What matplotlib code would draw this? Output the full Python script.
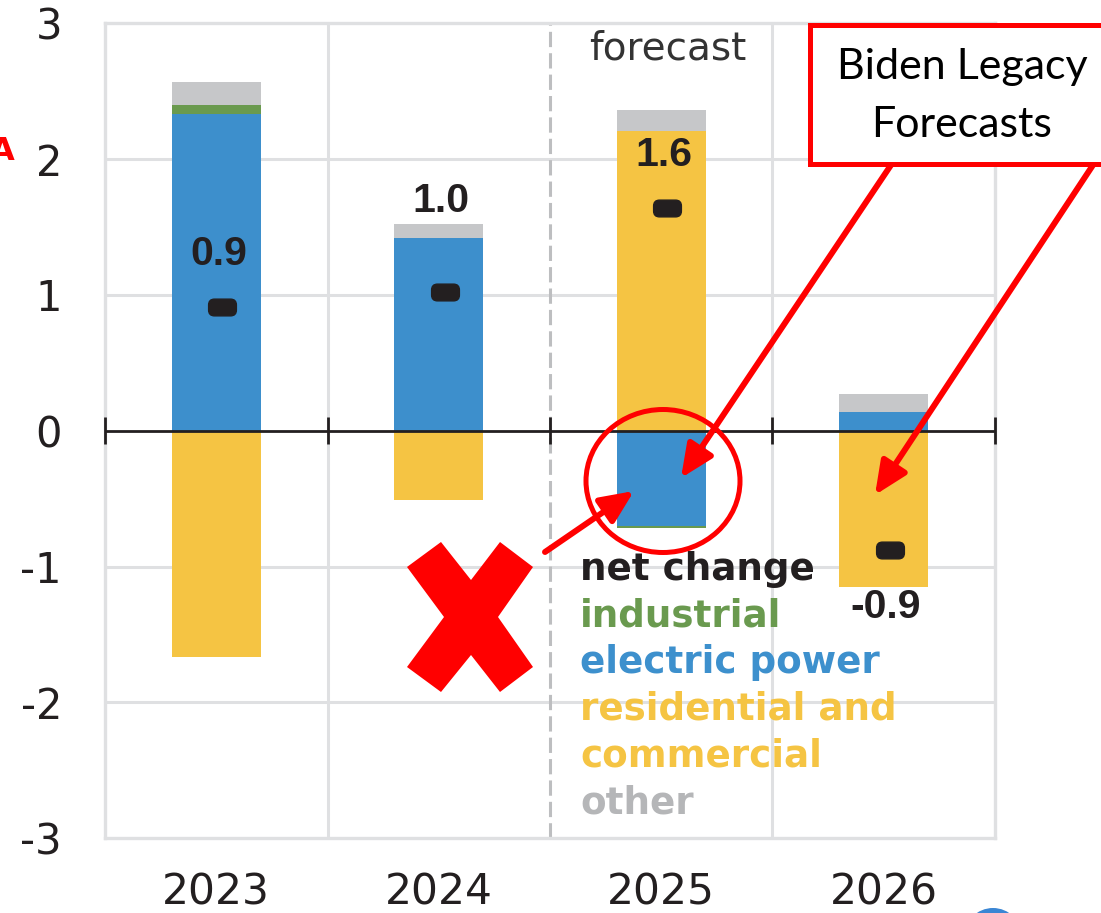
import matplotlib
matplotlib.use('Agg')
import matplotlib.pyplot as plt
import numpy as np
from matplotlib.patches import FancyArrowPatch, Ellipse, Rectangle, Polygon, BoxStyle

years = ['2023', '2024', '2025', '2026']
electric = [2.33, 1.42, -0.70, 0.14]
industrial = [0.065, 0.0, -0.015, 0.0]
residential = [-1.665, -0.51, 2.21, -1.15]
other = [0.175, 0.10, 0.15, 0.13]
net_change = [0.91, 1.02, 1.64, -0.88]
net_labels = ['0.9', '1.0', '1.6', '-0.9']
legend_labels = ['net change', 'industrial', 'electric power', 'residential and\ncommercial', 'other']

W, H = 1101, 913
def fp(x, y):
    # pixel (top-left origin) -> figure fraction
    return (x / W, 1 - y / H)

c_blue = '#3d8fcc'
c_yellow = '#f5c443'
c_green = '#6a9a4e'
c_gray = '#c6c7c9'
c_dark = '#231f20'
c_grid = '#dfe0e2'

fig = plt.figure(figsize=(W / 100, H / 100), dpi=100)
ax = fig.add_axes([105 / W, 74.7 / H, 890 / W, 815 / H])

x = np.arange(len(years)) + 0.5
pos_bottom = np.zeros(len(years))
neg_bottom = np.zeros(len(years))
for vals, col in [(electric, c_blue), (industrial, c_green), (residential, c_yellow), (other, c_gray)]:
    v = np.array(vals)
    bottom = np.where(v >= 0, pos_bottom, neg_bottom)
    ax.bar(x, v, bottom=bottom, width=0.40, color=col, linewidth=0, zorder=2)
    pos_bottom += np.where(v >= 0, v, 0)
    neg_bottom += np.where(v < 0, v, 0)

# net change markers (rounded rectangles)
pill = BoxStyle.Round(pad=0, rounding_size=0.35)(-0.83, -0.5, 1.66, 1.0, 1.0)
ax.plot(x + 0.027, net_change, ls='none', marker=pill, ms=20, color=c_dark, zorder=4)

label_y = [1.30, 1.69, 2.03, -1.30]
for xi, ly, lab in zip(x, label_y, net_labels):
    ax.text(xi + 0.01, ly, lab, ha='center', va='center', fontsize=29.5, fontweight='bold',
            family='Liberation Sans', color=c_dark, zorder=5)

ax.set_xlim(0, 4)
ax.set_ylim(-3, 3)
ax.set_yticks(range(-3, 4))
ax.set_yticklabels([str(v) for v in range(-3, 4)])
ax.set_xticks(x)
ax.set_xticklabels(years)
ax.tick_params(axis='y', length=0, pad=31, labelsize=30, labelcolor=c_dark)
ax.tick_params(axis='x', length=0, pad=24, labelsize=30.5, labelcolor=c_dark)

for sp in ax.spines.values():
    sp.set_color(c_grid)
    sp.set_linewidth(2.4)
for yv in [-2, -1, 1, 2]:
    ax.axhline(yv, color=c_grid, lw=2.2, zorder=0)
for xv in [1, 3]:
    ax.axvline(xv, color=c_grid, lw=2.2, zorder=0)
ax.axvline(2, color='#bdbec0', lw=2.2, dashes=(5, 2), zorder=1)

ax.axhline(0, color=c_dark, lw=2.0, zorder=3)
ax.vlines([0, 1, 2, 3, 4], -0.10, 0.10, color=c_dark, lw=2.0, zorder=3, clip_on=False)

ax.text(2.53, 2.73, 'forecast', ha='center', va='baseline', fontsize=28, color='#333333')

legend_colors = [c_dark, '#6a9a4f', '#3d90cd', c_yellow, '#b5b6b8']
lines = []
cols = []
for lab, col in zip(legend_labels, legend_colors):
    for part in lab.split('\n'):
        lines.append(part)
        cols.append(col)
for i, (t, col) in enumerate(zip(lines, cols)):
    fig.text(*fp(580, 580 + 46.6 * i), t, ha='left', va='baseline', fontsize=26.8,
             fontweight='bold', color=col)

# annotations
box = Rectangle(fp(810, 164), 330 / W, 139 / H, transform=fig.transFigure,
                facecolor='white', edgecolor='red', lw=3.6, zorder=10)
fig.add_artist(box)
fig.text(*fp(962, 67), 'Biden Legacy', ha='center', va='center', fontsize=31,
         family='Lato', color='black', zorder=11)
fig.text(*fp(962, 125), 'Forecasts', ha='center', va='center', fontsize=31,
         family='Lato', color='black', zorder=11)

for a, b in [((891, 165), (681, 478)), ((1093, 165), (875, 495)), ((545, 552), (634, 491))]:
    arr = FancyArrowPatch(fp(*a), fp(*b), transform=fig.transFigure,
                          arrowstyle='-|>,head_length=1.0,head_width=0.45', mutation_scale=20,
                          color='red', lw=4.3, shrinkA=0, shrinkB=0, zorder=12)
    fig.add_artist(arr)

circ = Ellipse(fp(663, 481), 154 / W, 143 / H, transform=fig.transFigure,
               fill=False, edgecolor='red', lw=3.6, zorder=12)
fig.add_artist(circ)

xpts = [(407, 567), (441, 542), (471, 580), (500, 542), (533, 567), (498, 617),
        (533, 667), (500, 692), (471, 655), (441, 692), (407, 667), (444, 617)]
cross = Polygon([fp(*p) for p in xpts], closed=True, transform=fig.transFigure,
                facecolor='red', edgecolor='none', zorder=12)
fig.add_artist(cross)

fig.add_artist(Ellipse(fp(993, 937), 58 / W, 58 / H, transform=fig.transFigure,
                       facecolor='#3a86d4', edgecolor='none'))
fig.text(*fp(15, 151), 'A', ha='right', va='center', color='red', fontweight='bold', fontsize=23)

fig.savefig('out.png', dpi=100)
